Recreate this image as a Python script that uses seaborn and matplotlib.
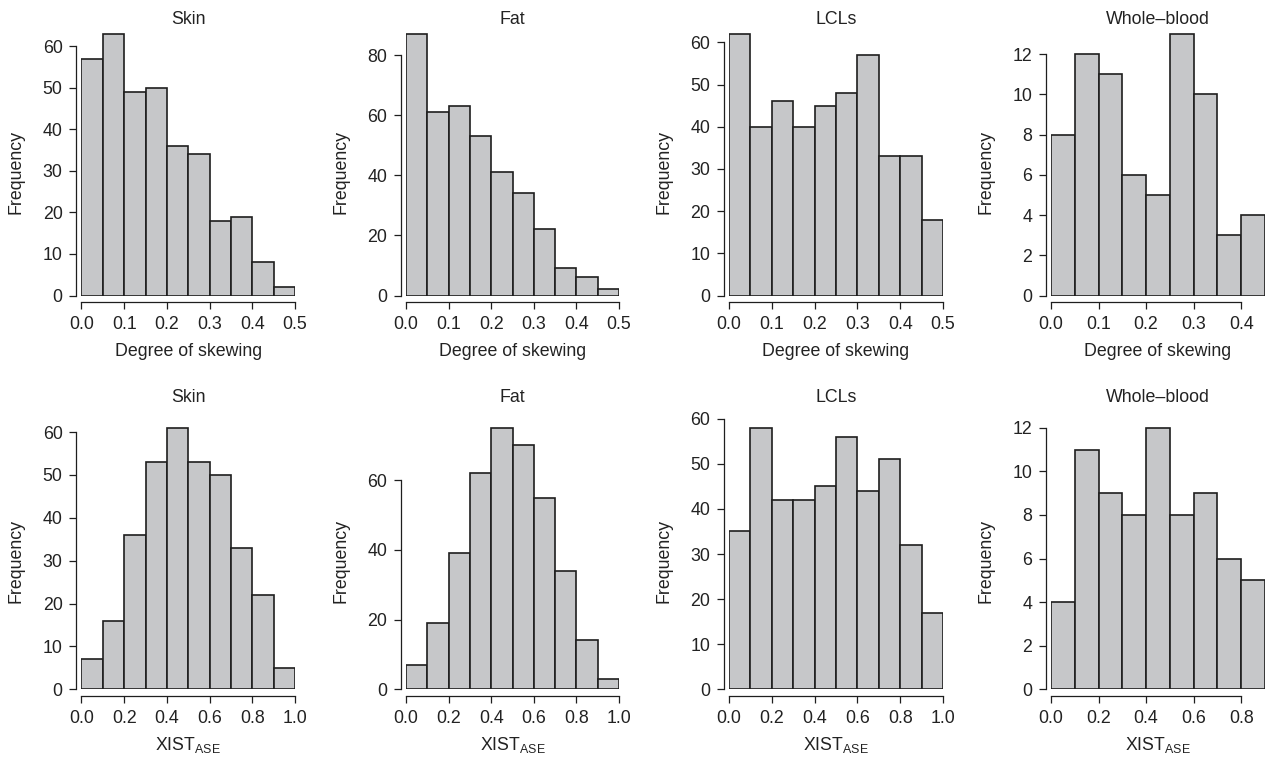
import numpy as np
import pandas as pd
import matplotlib
matplotlib.use("Agg")
import matplotlib.pyplot as plt
import seaborn as sns

# ---------------- data ----------------
titles = ["Skin", "Fat", "LCLs", "Whole\u2013blood"]

skew_step = 0.05
skew_skin = [57, 63, 49, 50, 36, 34, 18, 19, 8, 2]
skew_fat = [87, 61, 63, 53, 41, 34, 22, 9, 6, 2]
skew_lcls = [62, 40, 46, 40, 45, 48, 57, 33, 33, 18]
skew_blood = [8, 12, 11, 6, 5, 13, 10, 3, 4]

xist_step = 0.1
xist_skin = [7, 16, 36, 53, 61, 53, 50, 33, 22, 5]
xist_fat = [7, 19, 39, 62, 75, 70, 55, 34, 14, 3]
xist_lcls = [35, 58, 42, 42, 45, 56, 44, 51, 32, 17]
xist_blood = [4, 11, 9, 8, 12, 8, 9, 6, 5]

skew_xticks = [[0.0, 0.1, 0.2, 0.3, 0.4, 0.5]] * 3 + [[0.0, 0.1, 0.2, 0.3, 0.4]]
xist_xticks = [[0.0, 0.2, 0.4, 0.6, 0.8, 1.0]] * 3 + [[0.0, 0.2, 0.4, 0.6, 0.8]]
skew_yticks = [list(range(0, 61, 10)), list(range(0, 81, 20)),
               list(range(0, 61, 10)), list(range(0, 13, 2))]
xist_yticks = [list(range(0, 61, 10)), list(range(0, 61, 20)),
               list(range(0, 61, 10)), list(range(0, 13, 2))]

# ---------------- style ----------------
sns.set_style("ticks")
plt.rcParams["font.family"] = ["Liberation Sans", "DejaVu Sans"]
plt.rcParams["mathtext.fontset"] = "custom"
plt.rcParams["mathtext.rm"] = "Liberation Sans"
plt.rcParams["mathtext.it"] = "Liberation Sans:italic"
plt.rcParams["mathtext.bf"] = "Liberation Sans:bold"

W, H = 1266, 758
FS = 12.8
TXT = "#222222"
FILL = "#c6c7c9"
EDGE = "#1e1e1e"

fig = plt.figure(figsize=(W / 100, H / 100), dpi=100)
fig.patch.set_facecolor("white")

col_x0 = [81.5, 406, 729, 1051]
col_x1 = [295, 619, 943, 1265]
row_y0 = [295.5, 689.3]
AX_H = 272
title_y = [19.5, 398]
xlabel_y = [352, 745]
ylabel_y = [172, 561]


def fx(x):
    return x / W


def fy(y):
    return 1 - y / H


rows = [
    (skew_step, [skew_skin, skew_fat, skew_lcls, skew_blood], skew_xticks, skew_yticks,
     "Degree of skewing"),
    (xist_step, [xist_skin, xist_fat, xist_lcls, xist_blood], xist_xticks, xist_yticks,
     r"XIST$_{\rm ASE}$"),
]

for r, (step, series, xt_list, yt_list, xlab) in enumerate(rows):
    for c in range(4):
        counts = np.array(series[c], dtype=float)
        n = len(counts)
        edges = [round(i * step, 4) for i in range(n + 1)]
        centers = [(edges[i] + edges[i + 1]) / 2 for i in range(n)]
        df = pd.DataFrame({"x": centers, "w": counts})
        x0, x1, y0 = col_x0[c], col_x1[c], row_y0[r]
        ax = fig.add_axes([fx(x0), fy(y0), (x1 - x0) / W, AX_H / H])
        sns.histplot(data=df, x="x", weights="w", bins=edges, ax=ax,
                     color=FILL, edgecolor=EDGE, linewidth=1.2, alpha=1.0)
        ax.set_xlim(edges[0], edges[-1])
        ax.set_ylim(0, counts.max() * 1.04)
        xt = xt_list[c]
        yt = yt_list[c]
        ax.set_xticks(xt)
        ax.set_xticklabels([f"{v:.1f}" for v in xt])
        ax.set_yticks(yt)
        ax.set_yticklabels([str(v) for v in yt])
        for s in ["top", "right"]:
            ax.spines[s].set_visible(False)
        ax.spines["left"].set_position(("outward", 3.6))
        ax.spines["bottom"].set_position(("outward", 5))
        ax.spines["left"].set_bounds(yt[0], yt[-1])
        ax.spines["bottom"].set_bounds(xt[0], xt[-1])
        for s in ["left", "bottom"]:
            ax.spines[s].set_linewidth(0.9)
            ax.spines[s].set_color(EDGE)
        ax.tick_params(axis="both", direction="out", length=5, width=0.9,
                       colors=EDGE, labelsize=FS, labelcolor=TXT)
        ax.tick_params(axis="y", pad=5.0)
        ax.tick_params(axis="x", pad=5.0)
        ax.set_xlabel("")
        ax.set_ylabel("")
        ax.set_facecolor("none")
        ax.grid(False)

        cx = (x0 + x1) / 2
        fig.text(fx(cx), fy(title_y[r]), titles[c], ha="center", va="center",
                 fontsize=FS, color=TXT)
        fig.text(fx(cx), fy(xlabel_y[r]), xlab, ha="center", va="center",
                 fontsize=FS, color=TXT)
        fig.text(fx(x0 - 65), fy(ylabel_y[r]), "Frequency", ha="center", va="center",
                 rotation=90, fontsize=FS, color=TXT)

fig.savefig("out.png", dpi=100, facecolor="white")
